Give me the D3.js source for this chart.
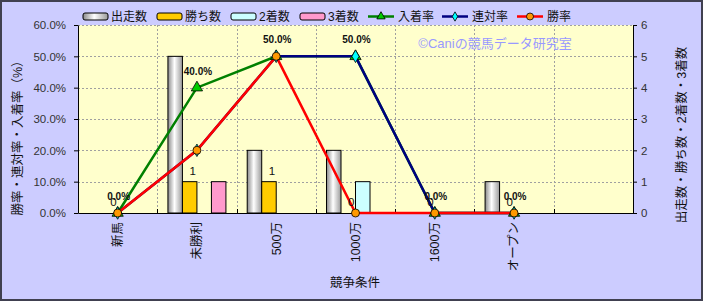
<!DOCTYPE html>
<html><head><meta charset="utf-8">
<script src="https://cdn.jsdelivr.net/npm/d3@7"></script>
<style>
html,body{margin:0;padding:0;background:#fff;}
svg{display:block;}
text{font-family:"Liberation Sans","Noto Sans CJK JP",sans-serif;}
</style></head>
<body>
<script>
const categories = ["新馬","未勝利","500万","1000万","1600万","オープン",""];
const starts = [0,5,2,2,0,1];
const wins = [0,1,1,0,0,0];
const seconds = [0,0,0,1,0,0];
const thirds = [0,1,0,0,0,0];
const placeRate = [0,0.4,0.5,0.5,0,0];
const quinellaRate = [0,0.2,0.5,0.5,0,0];
const winRate = [0,0.2,0.5,0,0,0];
const leftTicks = [0,0.1,0.2,0.3,0.4,0.5,0.6];
const rightTicks = [0,1,2,3,4,5,6];

const W=703,H=301;
const L=78,R=633,T=25,B=213;
const svg=d3.select("body").append("svg").attr("width",W).attr("height",H);
const defs=svg.append("defs");
const g1=defs.append("linearGradient").attr("id","gs").attr("x1","0").attr("x2","1").attr("y1","0").attr("y2","0");
g1.append("stop").attr("offset","0").attr("stop-color","#8a8a8a");
g1.append("stop").attr("offset","0.45").attr("stop-color","#ffffff");
g1.append("stop").attr("offset","1").attr("stop-color","#9a9a9a");

svg.append("rect").attr("x",1).attr("y",1).attr("width",W-2).attr("height",H-2)
  .attr("fill","#ccccff").attr("stroke","#404050").attr("stroke-width",2);
svg.append("rect").attr("x",L).attr("y",T).attr("width",R-L).attr("height",B-T).attr("fill","#ffffcc");

const x=d3.scaleBand().domain(categories.map((c,i)=>i)).range([L,R]);
const yL=d3.scaleLinear().domain([0,0.6]).range([B,T]);
const yR=d3.scaleLinear().domain([0,6]).range([B,T]);

// gridlines
const grid=svg.append("g").attr("stroke","#a0a0a0").attr("stroke-dasharray","2,2").attr("stroke-width",1);
leftTicks.slice(1).forEach(t=>grid.append("line").attr("x1",L).attr("x2",R).attr("y1",Math.round(yL(t))+0.5).attr("y2",Math.round(yL(t))+0.5));
categories.slice(1).forEach((c,i)=>{const xx=Math.round(x(i+1))+0.5;grid.append("line").attr("x1",xx).attr("x2",xx).attr("y1",T).attr("y2",B);});

// axes
const axL=svg.append("g").attr("transform",`translate(${L},0)`).call(d3.axisLeft(yL).tickValues(leftTicks).tickFormat(d3.format(".1%")).tickSize(4).tickSizeOuter(0));
axL.selectAll("text").attr("font-size",11.5).attr("fill","#333").attr("x",-12);
const axR=svg.append("g").attr("transform",`translate(${R},0)`).call(d3.axisRight(yR).tickValues(rightTicks).tickFormat(d3.format("d")).tickSize(4).tickSizeOuter(0));
axR.selectAll("text").attr("font-size",11.5).attr("fill","#333").attr("x",8);
const axB=svg.append("g").attr("transform",`translate(0,${B})`).call(d3.axisBottom(x).tickFormat(i=>categories[i]).tickSize(0).tickSizeOuter(0));
axB.selectAll("text").attr("font-size",12.5).attr("fill","#111").attr("text-anchor","end")
  .attr("font-family","Noto Sans CJK JP")
  .attr("transform","rotate(-90)").attr("x",-9).attr("y",0).attr("dy","0.35em");
[axL,axR,axB].forEach(a=>a.select(".domain").attr("stroke","#000"));
categories.slice(1).forEach((c,i)=>{const xx=Math.round(x(i+1))+0.5;svg.append("line").attr("x1",xx).attr("x2",xx).attr("y1",B).attr("y2",B-4).attr("stroke","#000");});

// bars
const bw=14.5;
const series=[{v:starts,fill:"url(#gs)"},{v:wins,fill:"#ffcc00"},{v:seconds,fill:"#ccffff"},{v:thirds,fill:"#ff99cc"}];
series.forEach((s,k)=>{
  svg.append("g").selectAll("rect").data(s.v).join("rect")
    .attr("x",(d,i)=>x(i)+x.bandwidth()/2-2*bw+k*bw)
    .attr("y",d=>yR(d)).attr("width",bw).attr("height",d=>B-yR(d))
    .attr("fill",s.fill).attr("stroke",d=>d>0?"#000":"none").attr("stroke-width",1);
});

// lines
const cx=i=>x(i)+x.bandwidth()/2;
function drawLine(vals,color){
  svg.append("path").datum(vals).attr("fill","none").attr("stroke",color).attr("stroke-width",2.5)
    .attr("d",d3.line().x((d,i)=>cx(i)).y(d=>yL(d)));
}
drawLine(placeRate,"#008000");
drawLine(quinellaRate,"#000080");
drawLine(winRate,"#ff0000");
const tri=d3.symbol().type(d3.symbolTriangle).size(55);
const dia=d3.symbol().type(d3.symbolDiamond).size(45);
svg.append("g").selectAll("path").data(placeRate).join("path").attr("d",tri)
  .attr("transform",(d,i)=>`translate(${cx(i)},${yL(d)})`).attr("fill","#00cc00").attr("stroke","#000").attr("stroke-width",0.8);
svg.append("g").selectAll("path").data(quinellaRate).join("path").attr("d",dia)
  .attr("transform",(d,i)=>`translate(${cx(i)},${yL(d)})`).attr("fill","#00ffff").attr("stroke","#000").attr("stroke-width",0.8);
svg.append("g").selectAll("circle").data(winRate).join("circle")
  .attr("cx",(d,i)=>cx(i)).attr("cy",d=>yL(d)).attr("r",4).attr("fill","#ff9900").attr("stroke","#000").attr("stroke-width",0.8);

// data labels
svg.append("g").selectAll("text").data(wins).join("text")
  .attr("x",(d,i)=>x(i)+x.bandwidth()/2-bw/2+3).attr("y",d=>yR(d)-7)
  .attr("text-anchor","middle").attr("font-size",11.5).attr("fill","#111").text(d=>d);
svg.append("g").selectAll("text").data(placeRate).join("text")
  .attr("x",(d,i)=>cx(i)+1).attr("y",d=>yL(d)-13)
  .attr("text-anchor","middle").attr("font-size",10).attr("font-weight","bold").attr("fill","#111")
  .text(d=>d3.format(".1%")(d));

// watermark
svg.append("text").attr("x",495).attr("y",48).attr("text-anchor","middle").attr("font-size",13)
  .attr("fill","#9999ff").attr("font-family","Noto Sans CJK JP").text("©Caniの競馬データ研究室");

// axis titles
svg.append("text").attr("transform","translate(22,135) rotate(-90)").attr("text-anchor","middle")
  .attr("font-size",12.5).attr("fill","#111").attr("font-family","Noto Sans CJK JP").text("勝率・連対率・入着率（%）");
svg.append("text").attr("transform","translate(686,135) rotate(-90)").attr("text-anchor","middle")
  .attr("font-size",12.5).attr("fill","#111").attr("font-family","Noto Sans CJK JP").text("出走数・勝ち数・2着数・3着数");
svg.append("text").attr("x",355).attr("y",287).attr("text-anchor","middle")
  .attr("font-size",12.5).attr("fill","#111").attr("font-family","Noto Sans CJK JP").text("競争条件");

// legend
const legendBars=[{t:"出走数",f:"url(#gs)",x:83},{t:"勝ち数",f:"#ffcc00",x:157},{t:"2着数",f:"#ccffff",x:231},{t:"3着数",f:"#ff99cc",x:300}];
legendBars.forEach(l=>{
  svg.append("rect").attr("x",l.x).attr("y",13).attr("width",25).attr("height",7).attr("rx",2)
    .attr("fill",l.f).attr("stroke","#000").attr("stroke-width",1);
  svg.append("text").attr("x",l.x+28).attr("y",21).attr("font-size",12).attr("fill","#111")
    .attr("font-family","Noto Sans CJK JP").text(l.t);
});
const legendLines=[{t:"入着率",c:"#008000",m:"tri",x:368},{t:"連対率",c:"#000080",m:"dia",x:442},{t:"勝率",c:"#ff0000",m:"cir",x:517}];
legendLines.forEach(l=>{
  svg.append("line").attr("x1",l.x).attr("x2",l.x+26).attr("y1",16.5).attr("y2",16.5).attr("stroke",l.c).attr("stroke-width",2.5);
  const mx=l.x+13,my=16.5;
  if(l.m==="tri") svg.append("path").attr("d",d3.symbol().type(d3.symbolTriangle).size(30)).attr("transform",`translate(${mx},${my})`).attr("fill","#00cc00").attr("stroke","#000").attr("stroke-width",0.8);
  if(l.m==="dia") svg.append("path").attr("d",d3.symbol().type(d3.symbolDiamond).size(25)).attr("transform",`translate(${mx},${my})`).attr("fill","#00ffff").attr("stroke","#000").attr("stroke-width",0.8);
  if(l.m==="cir") svg.append("circle").attr("cx",mx).attr("cy",my).attr("r",3.5).attr("fill","#ff9900").attr("stroke","#000").attr("stroke-width",0.8);
  svg.append("text").attr("x",l.x+30).attr("y",21).attr("font-size",12).attr("fill","#111")
    .attr("font-family","Noto Sans CJK JP").text(l.t);
});
</script>
</body></html>
